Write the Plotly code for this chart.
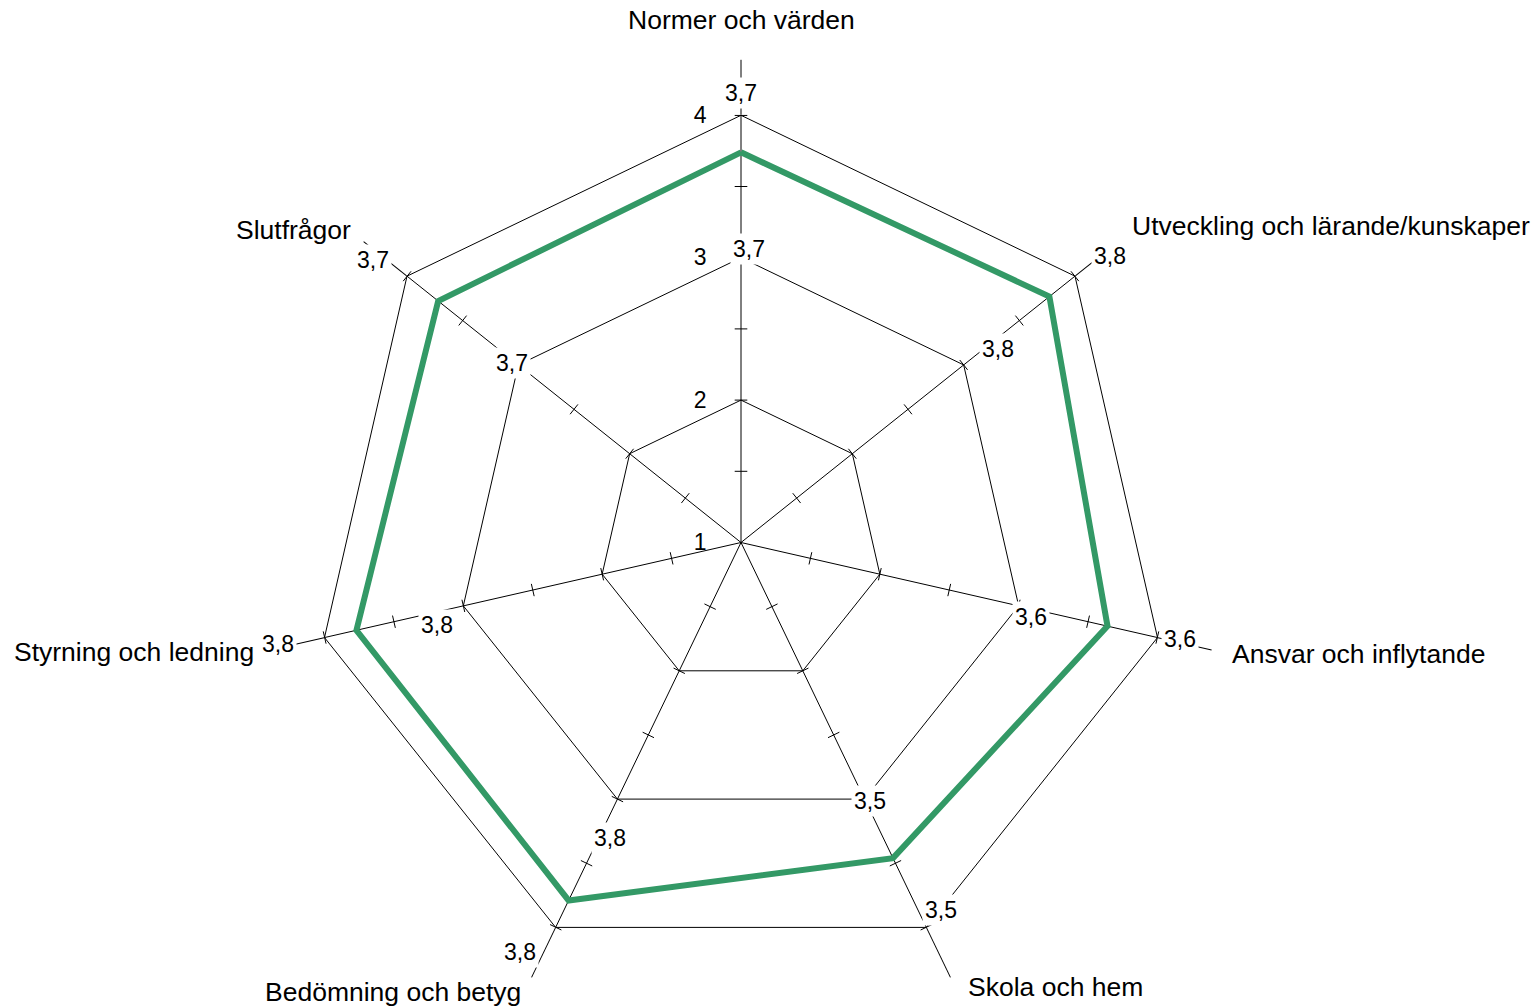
import numpy as np
import plotly.graph_objects as go

# ---------------- data ----------------
categories = [
    "Normer och värden",
    "Utveckling och lärande/kunskaper",
    "Ansvar och inflytande",
    "Skola och hem",
    "Bedömning och betyg",
    "Styrning och ledning",
    "Slutfrågor",
]
values = [3.74, 3.77, 3.64, 3.46, 3.79, 3.77, 3.72]
radial_tickvals = [1, 2, 3, 4]
radial_ticktext = ["1", "2", "3", "4"]
spoke_tick_levels = [1.5, 2, 2.5, 3, 3.5, 3.999]

value_labels = [f"{v:.1f}".replace(".", ",") for v in values]

# ---------------- label placement (r in value units, theta deg clockwise from top) ----------------
outer_label_r = [4.16, 4.28, 4.16, 3.94, 4.27, 4.33, 4.26]
outer_label_theta = [0, 52.2, 102.4, 151.5, 208.4, 257.7, 307.5]
inner_label_r = [3.06, 3.26, 3.10, 3.03, 3.27, 3.21, 3.04]
inner_label_theta = [1.5, 53.1, 104.4, 153.6, 203.9, 254.8, 308.1]
cat_label_r = [4.67, 4.52, 4.52, 4.50, 4.51, 4.49, 4.50]
cat_label_theta = [0, 50.9, 102.9, 153.2, 205.9, 257.3, 308.8]
cat_label_anchor = ["center", "left", "left", "left", "right", "right", "right"]

# ---------------- geometry / style ----------------
W, H = 1539, 1007
PAGE_MARGIN = 8              # default body margin of the html page
CX, CY = 741 - PAGE_MARGIN, 542.5 - PAGE_MARGIN   # chart centre in figure pixels
R_MIN, R_MAX = 1, 4
SCALE = 142.4                # pixels per value unit
R_PX = (R_MAX - R_MIN) * SCALE
FONT = "Liberation Sans, Arial, sans-serif"
GREEN = "#339966"

n = len(categories)
axis_angles = [i * 360 / n for i in range(n)]


def to_xy(r, theta):
    rad = np.deg2rad(theta)
    return (r - R_MIN) * np.sin(rad), (r - R_MIN) * np.cos(rad)


fig = go.Figure()

# invisible cartesian overlay used to place the text labels
fig.add_trace(go.Scatter(x=[], y=[], showlegend=False, hoverinfo="skip"))

# small tick marks along each spoke
tick_theta, tick_r, tick_angle = [], [], []
for cat, ang in zip(categories, axis_angles):
    for lv in spoke_tick_levels:
        tick_theta.append(cat)
        tick_r.append(lv)
        tick_angle.append(ang)
fig.add_trace(go.Scatterpolar(
    r=tick_r, theta=tick_theta, mode="markers",
    marker=dict(symbol="line-ew", size=9, angle=tick_angle,
                line=dict(width=1, color="black"), color="black"),
    cliponaxis=False, showlegend=False, hoverinfo="skip",
))

# data series
fig.add_trace(go.Scatterpolar(
    r=values + values[:1], theta=categories + categories[:1],
    mode="lines", line=dict(color=GREEN, width=6),
    showlegend=False, hoverinfo="skip",
))

annotations = []
for lab, r, th in zip(value_labels, outer_label_r, outer_label_theta):
    x, y = to_xy(r, th)
    annotations.append(dict(x=x, y=y, xref="x", yref="y", text=lab, showarrow=False,
                            xanchor="center", yanchor="middle", bgcolor="white", borderpad=2,
                            font=dict(family=FONT, size=23, color="black")))
for lab, r, th in zip(value_labels, inner_label_r, inner_label_theta):
    x, y = to_xy(r, th)
    annotations.append(dict(x=x, y=y, xref="x", yref="y", text=lab, showarrow=False,
                            xanchor="center", yanchor="middle", bgcolor="white", borderpad=2,
                            font=dict(family=FONT, size=23, color="black")))
for lab, r, th, anc in zip(categories, cat_label_r, cat_label_theta, cat_label_anchor):
    x, y = to_xy(r, th)
    annotations.append(dict(x=x, y=y, xref="x", yref="y", text=lab, showarrow=False,
                            xanchor=anc, yanchor="middle",
                            font=dict(family=FONT, size=26.5, color="black")))

fig.update_layout(
    width=W, height=H,
    margin=dict(l=0, r=0, t=0, b=0, pad=0),
    paper_bgcolor="white", plot_bgcolor="rgba(0,0,0,0)",
    showlegend=False,
    font=dict(family=FONT, color="black"),
    xaxis=dict(range=[-CX / SCALE, (W - CX) / SCALE], domain=[0, 1], visible=False, fixedrange=True),
    yaxis=dict(range=[-(H - CY) / SCALE, CY / SCALE], domain=[0, 1], visible=False, fixedrange=True),
    polar=dict(
        domain=dict(x=[(CX - R_PX) / W, (CX + R_PX) / W],
                    y=[(H - CY - R_PX) / H, (H - CY + R_PX) / H]),
        bgcolor="rgba(0,0,0,0)",
        gridshape="linear",
        radialaxis=dict(
            range=[R_MIN, R_MAX], tickvals=radial_tickvals, ticktext=radial_ticktext,
            angle=90, side="counterclockwise", tickangle=90,
            showline=False, showgrid=True, gridcolor="black", gridwidth=1,
            ticks="outside", ticklen=26, tickcolor="rgba(0,0,0,0)",
            tickfont=dict(family=FONT, size=23, color="black"),
            layer="below traces",
        ),
        angularaxis=dict(
            type="category", categoryarray=categories,
            rotation=90, direction="clockwise",
            showgrid=True, gridcolor="black", gridwidth=1,
            showline=True, linecolor="black", linewidth=1,
            ticks="outside", ticklen=55, tickcolor="black", tickwidth=1,
            showticklabels=False, layer="below traces",
        ),
    ),
    annotations=annotations,
)

fig.write_html("out.html")
